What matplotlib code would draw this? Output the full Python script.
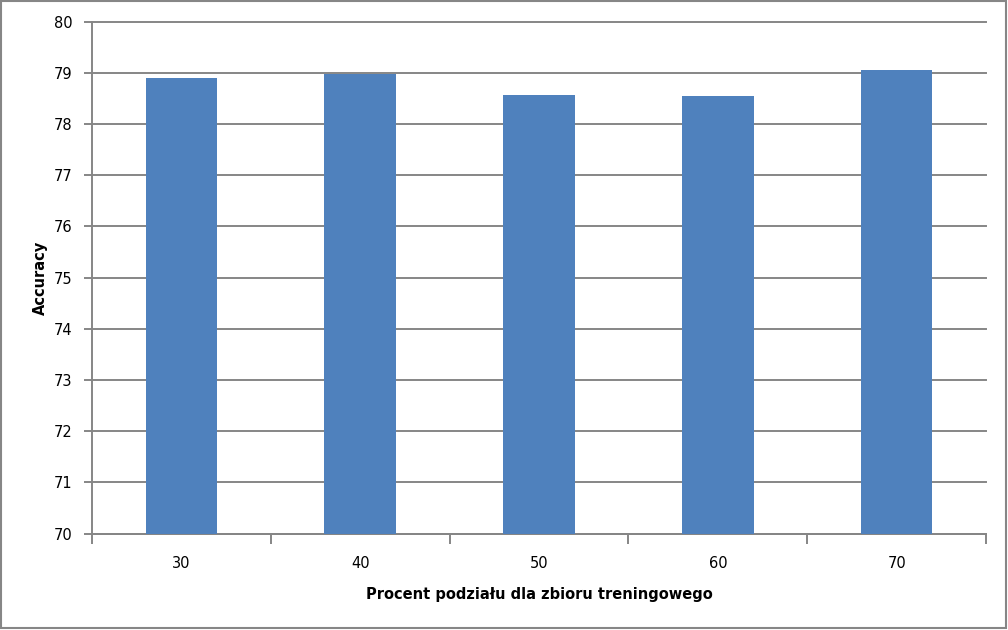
import matplotlib.pyplot as plt
from matplotlib.patches import Rectangle
import numpy as np

# data
splits = ['30', '40', '50', '60', '70']
accuracy = [78.90, 78.97, 78.56, 78.54, 79.06]
y_ticks = list(range(70, 81))

x_label = 'Procent podziału dla zbioru treningowego'
y_label = 'Accuracy'

bar_color = '#4f81bd'
grid_color = '#868686'

plt.rcParams['font.family'] = ['DejaVu Sans']

fig = plt.figure(figsize=(10.08, 6.3), dpi=100)
ax = fig.add_axes([0.0913, 0.153, 0.887, 0.8127])

x = np.arange(len(splits))
ax.bar(x, accuracy, width=0.40, color=bar_color, zorder=3)

ax.set_ylim(70, 80)
ax.set_xlim(-0.5, len(splits) - 0.5)
ax.set_yticks(y_ticks)
ax.set_yticklabels([str(t) for t in y_ticks], fontsize=10.5)
ax.yaxis.grid(True, color=grid_color, linewidth=1.4, zorder=0)
ax.set_axisbelow(True)
for gl in ax.get_ygridlines():
    gl.set_clip_on(False)

# category labels in the middle, tick marks at the boundaries
ax.set_xticks(x)
ax.set_xticklabels(splits, fontsize=10.5)
ax.tick_params(axis='x', which='major', length=0, pad=16)
ax.set_xticks(np.arange(-0.5, len(splits)), minor=True)
ax.tick_params(axis='x', which='minor', length=7, width=1.4, color=grid_color)
ax.tick_params(axis='y', length=6, width=1.4, color=grid_color, pad=8)

for side in ['top', 'right']:
    ax.spines[side].set_visible(False)
for side in ['left', 'bottom']:
    ax.spines[side].set_color(grid_color)
    ax.spines[side].set_linewidth(1.4)

ax.set_xlabel(x_label, fontsize=10.5, fontweight='bold', labelpad=12)
ax.set_ylabel(y_label, fontsize=10.5, fontweight='bold', labelpad=4)

# frame around the whole chart
fig.patches.append(Rectangle((0.001, 0.003), 0.997, 0.995, transform=fig.transFigure,
                             fill=False, edgecolor=grid_color, linewidth=1.5))

fig.savefig('out.png', dpi=100)
